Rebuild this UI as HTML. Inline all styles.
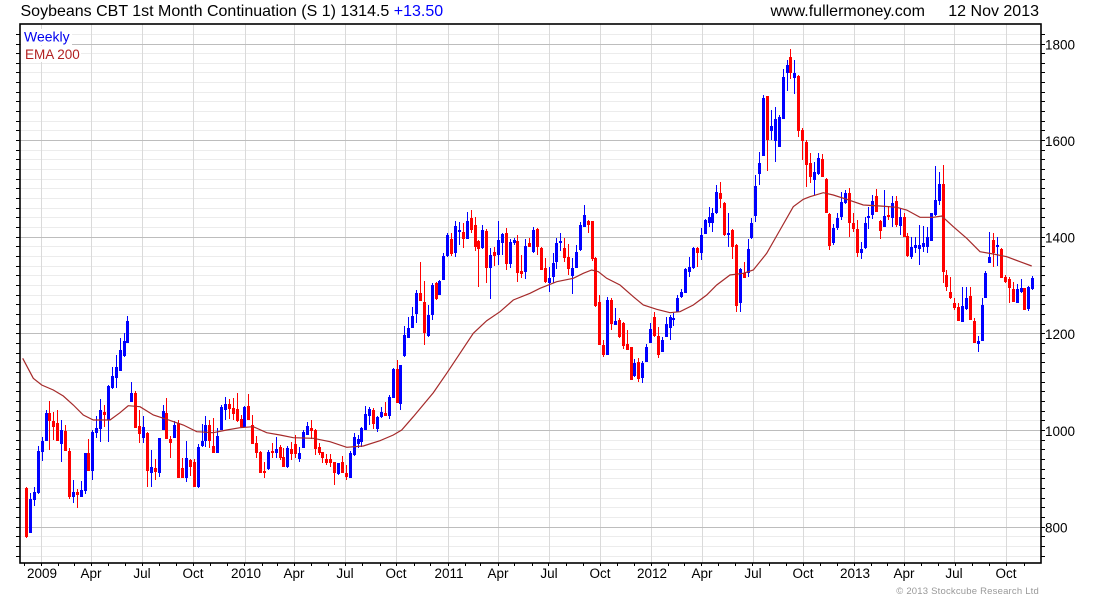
<!DOCTYPE html>
<html><head><meta charset="utf-8"><style>
html,body{margin:0;padding:0;background:#fff;}
svg{display:block;}
text{font-family:"Liberation Sans",Arial,sans-serif;}
</style></head><body>
<svg width="1100" height="600" viewBox="0 0 1100 600" xmlns="http://www.w3.org/2000/svg">
<rect x="0" y="0" width="1100" height="600" fill="#fff"/>
<!-- minor horizontal grid -->
<path fill="none" stroke="#ececec" stroke-width="1" d="M20 556.5H1041M20 546.5H1041M20 536.5H1041M20 517.5H1041M20 507.5H1041M20 498.5H1041M20 488.5H1041M20 478.5H1041M20 469.5H1041M20 459.5H1041M20 449.5H1041M20 440.5H1041M20 420.5H1041M20 411.5H1041M20 401.5H1041M20 391.5H1041M20 382.5H1041M20 372.5H1041M20 362.5H1041M20 353.5H1041M20 343.5H1041M20 324.5H1041M20 314.5H1041M20 304.5H1041M20 295.5H1041M20 285.5H1041M20 275.5H1041M20 266.5H1041M20 256.5H1041M20 246.5H1041M20 227.5H1041M20 217.5H1041M20 208.5H1041M20 198.5H1041M20 188.5H1041M20 179.5H1041M20 169.5H1041M20 159.5H1041M20 150.5H1041M20 130.5H1041M20 121.5H1041M20 111.5H1041M20 101.5H1041M20 92.5H1041M20 82.5H1041M20 72.5H1041M20 63.5H1041M20 53.5H1041M20 34.5H1041"/>
<!-- vertical grid -->
<path fill="none" stroke="#dadada" stroke-width="1" d="M41.5 24V563M91.5 24V563M142.5 24V563M193.5 24V563M245.5 24V563M294.5 24V563M345.5 24V563M396.5 24V563M448.5 24V563M498.5 24V563M549.5 24V563M600.5 24V563M651.5 24V563M702.5 24V563M753.5 24V563M803.5 24V563M854.5 24V563M904.5 24V563M954.5 24V563M1006.5 24V563"/>
<!-- major horizontal grid -->
<path fill="none" stroke="#bdbdbd" stroke-width="1" d="M20 527.5H1041M20 430.5H1041M20 333.5H1041M20 237.5H1041M20 140.5H1041M20 44.5H1041"/>
<!-- legend backgrounds -->
<rect x="21" y="29" width="51" height="16" fill="#fff"/>
<rect x="21" y="46" width="60" height="16" fill="#fff"/>
<!-- red candles -->
<path fill="none" stroke="#ff0000" stroke-width="1" d="M26.5 487V538M49.5 401V450M53.5 412V440M57.5 410V441M65.5 425V450M69.5 448V499M77.5 489V508M88.5 439V471M104.5 405V427M135.5 391V428M139.5 410V443M147.5 432V487M155.5 459V480M166.5 398V439M170.5 436V458M178.5 420V478M182.5 458V478M190.5 459V476M194.5 459V487M209.5 420V448M213.5 418V453M229.5 399V419M233.5 398V420M237.5 393V422M241.5 415V428M248.5 394V420M252.5 415V444M256.5 436V458M260.5 451V473M264.5 462V478M272.5 443V458M280.5 445V460M283.5 448V467M291.5 442V460M295.5 435V458M311.5 420V439M315.5 429V455M319.5 443V455M322.5 452V463M326.5 454V465M330.5 454V467M334.5 462V485M342.5 456V473M346.5 465V480M373.5 408V429M385.5 402V416M397.5 360V403M420.5 262V300M424.5 281V345M436.5 282V300M451.5 233V256M463.5 223V248M471.5 210V233M475.5 217V251M478.5 240V287M486.5 229V283M494.5 247V266M506.5 228V270M517.5 235V282M521.5 255V278M529.5 238V247M537.5 228V255M541.5 247V270M545.5 258V283M564.5 238V262M568.5 244V275M588.5 220V233M592.5 221V261M595.5 257V307M599.5 295V345M603.5 340V357M611.5 298V330M619.5 318V338M623.5 322V349M627.5 330V350M631.5 347V380M638.5 358V382M654.5 312V337M658.5 327V358M697.5 247V267M720.5 182V208M724.5 202V236M732.5 229V259M736.5 244V312M744.5 262V278M767.5 96V171M790.5 49V79M798.5 75V137M802.5 128V160M806.5 140V187M810.5 153V183M822.5 154V177M826.5 178V213M829.5 213V250M849.5 188V237M853.5 213V232M857.5 220V257M876.5 189V212M880.5 220V239M888.5 206V220M896.5 196V227M904.5 213V237M907.5 233V257M943.5 165V283M946.5 270V291M950.5 277V299M954.5 298V310M958.5 303V321M970.5 287V320M974.5 318V343M993.5 233V267M1001.5 248V278M1005.5 275V283M1009.5 277V303M1013.5 282V302M1024.5 288V310"/>
<path fill="none" stroke="#ff0000" stroke-width="3" d="M26.5 488V537M49.5 413V421M53.5 421V427M57.5 423V441M65.5 431V451M69.5 451V497M77.5 492V495M88.5 453V471M104.5 412V415M135.5 393V428M139.5 426V434M147.5 433V471M155.5 468V472M166.5 413V439M170.5 439V443M178.5 423V478M182.5 468V478M190.5 460V467M194.5 462V487M209.5 425V441M213.5 446V453M229.5 404V409M233.5 408V414M237.5 409V421M241.5 419V427M248.5 406V420M252.5 425V444M256.5 443V453M260.5 452V473M264.5 471V473M272.5 451V453M280.5 447V458M283.5 457V467M291.5 449V454M295.5 444V454M311.5 428V431M315.5 430V449M319.5 447V453M322.5 452V458M326.5 459V463M330.5 459V463M334.5 462V473M342.5 462V473M346.5 473V477M373.5 410V424M385.5 413V416M397.5 369V403M420.5 293V301M424.5 302V333M436.5 283V299M451.5 239V254M463.5 232V239M471.5 218V230M475.5 225V247M478.5 241V249M486.5 231V268M494.5 252V256M506.5 233V264M517.5 241V273M521.5 271V274M529.5 243V247M537.5 229V247M541.5 248V270M545.5 268V282M564.5 248V258M568.5 257V269M588.5 221V225M592.5 221V259M595.5 258V306M599.5 302V345M603.5 345V355M611.5 300V324M619.5 320V337M623.5 323V346M627.5 344V350M631.5 347V380M638.5 362V379M654.5 317V336M658.5 336V355M697.5 248V253M720.5 193V199M724.5 203V235M732.5 230V247M736.5 245V306M744.5 273V278M767.5 96V140M790.5 57V73M798.5 76V131M802.5 130V141M806.5 142V165M810.5 163V177M822.5 159V177M826.5 179V213M829.5 214V246M849.5 193V223M853.5 223V229M857.5 229V253M876.5 196V212M880.5 221V231M888.5 215V217M896.5 201V225M904.5 217V237M907.5 236V256M943.5 184V272M946.5 275V287M950.5 292V298M954.5 303V308M958.5 307V321M970.5 296V320M974.5 321V343M993.5 240V253M1001.5 249V278M1005.5 277V282M1009.5 279V288M1013.5 289V302M1024.5 288V310"/>
<!-- blue candles -->
<path fill="none" stroke="#0000ff" stroke-width="1" d="M30.5 493V533M34.5 487V506M38.5 446V494M42.5 437V461M46.5 410V441M61.5 420V462M73.5 480V503M81.5 481V497M85.5 453V494M92.5 430V480M96.5 416V438M100.5 399V442M108.5 385V442M112.5 367V389M116.5 355V388M120.5 338V371M124.5 333V357M127.5 316V343M131.5 382V402M143.5 416V443M151.5 450V487M159.5 438V477M163.5 405V430M174.5 421V438M186.5 441V482M198.5 444V488M202.5 424V447M205.5 416V447M217.5 428V453M221.5 405V430M225.5 397V420M244.5 406V427M268.5 450V470M276.5 437V458M287.5 446V468M299.5 447V462M303.5 430V448M307.5 422V435M338.5 463V475M350.5 451V478M354.5 433V456M358.5 435V448M361.5 427V447M365.5 406V430M369.5 407V425M377.5 416V432M381.5 407V418M389.5 395V419M393.5 368V398M400.5 365V410M404.5 326V357M408.5 317V338M412.5 307V328M416.5 290V323M428.5 305V337M432.5 283V320M439.5 280V295M443.5 253V280M447.5 233V257M455.5 221V257M459.5 222V245M467.5 212V236M482.5 225V249M490.5 248V299M498.5 221V265M502.5 233V255M510.5 239V268M514.5 238V245M525.5 239V279M533.5 227V253M549.5 267V292M553.5 253V283M556.5 238V269M560.5 233V251M572.5 258V294M576.5 245V267M580.5 222V251M584.5 205V227M607.5 297V355M615.5 308V325M634.5 359V377M642.5 361V383M646.5 344V362M650.5 323V343M662.5 337V352M666.5 317V337M670.5 315V340M673.5 313V326M677.5 295V312M681.5 289V298M685.5 268V293M689.5 257V277M693.5 247V269M701.5 228V260M705.5 219V234M709.5 207V227M712.5 208V232M716.5 185V214M728.5 213V247M740.5 268V312M748.5 239V277M751.5 218V239M755.5 175V222M759.5 152V185M763.5 95V156M771.5 110V140M775.5 107V162M779.5 115V147M783.5 69V119M787.5 60V91M794.5 60V94M814.5 162V195M818.5 153V175M833.5 224V245M837.5 213V230M841.5 192V220M845.5 190V204M861.5 242V259M865.5 217V249M868.5 207V229M872.5 195V219M884.5 190V227M892.5 196V227M900.5 208V235M911.5 237V259M915.5 237V253M919.5 225V265M923.5 226V252M927.5 227V253M931.5 213V241M935.5 166V216M939.5 172V205M962.5 287V322M966.5 287V310M978.5 336V352M982.5 298V341M985.5 271V298M989.5 232V263M997.5 237V266M1017.5 284V303M1021.5 279V293M1028.5 286V311M1032.5 276V290"/>
<path fill="none" stroke="#0000ff" stroke-width="3" d="M30.5 499V533M34.5 492V500M38.5 451V493M42.5 441V452M46.5 413V441M61.5 430V444M73.5 492V497M81.5 490V497M85.5 453V491M92.5 432V471M96.5 428V433M100.5 410V429M108.5 386V420M112.5 376V388M116.5 367V378M120.5 350V371M124.5 341V356M127.5 321V343M131.5 393V402M143.5 427V438M151.5 467V473M159.5 438V473M163.5 411V430M174.5 425V438M186.5 458V478M198.5 447V487M202.5 441V446M205.5 425V441M217.5 436V453M221.5 407V430M225.5 404V410M244.5 407V427M268.5 452V469M276.5 449V453M287.5 448V467M299.5 453V459M303.5 432V448M307.5 426V435M338.5 463V474M350.5 453V478M354.5 437V455M358.5 439V444M361.5 428V442M365.5 414V430M369.5 409V416M377.5 417V429M381.5 412V417M389.5 397V416M393.5 369V398M400.5 365V404M404.5 335V356M408.5 328V338M412.5 316V328M416.5 293V314M428.5 315V336M432.5 285V315M439.5 281V295M443.5 256V280M447.5 235V256M455.5 226V253M459.5 230V232M467.5 221V239M482.5 230V248M490.5 255V268M498.5 240V255M502.5 234V243M510.5 242V264M514.5 240V243M525.5 246V272M533.5 230V252M549.5 278V283M553.5 263V277M556.5 243V262M560.5 241V243M572.5 268V276M576.5 252V268M580.5 225V250M584.5 215V227M607.5 300V355M615.5 321V325M634.5 363V376M642.5 363V378M646.5 347V362M650.5 329V343M662.5 340V352M666.5 324V337M670.5 317V328M673.5 318V320M677.5 298V312M681.5 292V297M685.5 269V293M689.5 267V272M693.5 248V268M701.5 235V253M705.5 220V234M709.5 217V223M712.5 213V223M716.5 192V213M728.5 233V235M740.5 269V303M748.5 249V273M751.5 223V238M755.5 186V216M759.5 163V174M763.5 98V156M771.5 126V131M775.5 119V141M779.5 117V147M783.5 77V119M787.5 65V73M794.5 73V78M814.5 172V180M818.5 158V174M833.5 228V243M837.5 218V228M841.5 202V217M845.5 193V203M861.5 249V253M865.5 223V248M868.5 216V218M872.5 201V215M884.5 216V227M892.5 203V218M900.5 217V226M911.5 247V257M915.5 245V248M919.5 245V249M923.5 243V247M927.5 237V247M931.5 213V241M935.5 200V215M939.5 184V201M962.5 306V322M966.5 298V309M978.5 341V344M982.5 305V341M985.5 273V298M989.5 257V263M997.5 245V247M1017.5 289V303M1021.5 288V292M1028.5 287V309M1032.5 278V289"/>
<!-- EMA 200 -->
<polyline fill="none" stroke="#a52a2a" stroke-width="1.2" points="22.7,358.3 33.3,378.3 41.7,385 53.3,390 63.3,396 73.3,405 83.3,415 93.3,420 110,420 120,412.7 128.3,405.7 140,406.7 153.3,415 166.7,419.3 183.3,425 196.7,431.7 213.3,432.7 226.7,430 240,427.7 253.3,426.7 266.7,432.7 280,435 293.3,437.7 313.3,438.3 330,441.7 346.7,447.3 363.3,446 380,440.7 393.3,435 401.7,430 413.3,416.7 433.3,392.7 446.7,373.3 460,353.3 473.3,333.3 486.7,320.7 500,311.7 513.3,300 530,293.3 540,288.3 556.7,281.7 573.3,278.3 583.3,273.3 591.7,270 598.3,271.7 606.7,278.3 620,285 633.3,296.7 643.3,305 656.7,309.3 670,312.7 680,311.7 693.3,305 706.7,295 716.7,285 730,275 743.3,273.3 753.3,270 766.7,253.3 780,230 793.3,206.7 803.3,199.3 810,196.7 823.3,192.7 833.3,195 846.7,199.3 863.3,205 880,206 896.7,207.3 906.7,210 920,217.3 933.3,217.3 941.7,216 953.3,226.7 966.7,238.3 980,251.7 993.3,254 1006.7,256.7 1020,261.7 1031.7,266"/>
<!-- border -->
<rect x="20" y="24" width="1021" height="539" fill="none" stroke="#000" stroke-width="1.6"/>
<!-- right & left ticks -->
<path fill="none" stroke="#000" stroke-width="1" d="M1041 556.5H1045M1041 546.5H1045M1041 536.5H1045M1041 527.5H1045M1041 517.5H1045M1041 507.5H1045M1041 498.5H1045M1041 488.5H1045M1041 478.5H1045M1041 469.5H1045M1041 459.5H1045M1041 449.5H1045M1041 440.5H1045M1041 430.5H1045M1041 420.5H1045M1041 411.5H1045M1041 401.5H1045M1041 391.5H1045M1041 382.5H1045M1041 372.5H1045M1041 362.5H1045M1041 353.5H1045M1041 343.5H1045M1041 333.5H1045M1041 324.5H1045M1041 314.5H1045M1041 304.5H1045M1041 295.5H1045M1041 285.5H1045M1041 275.5H1045M1041 266.5H1045M1041 256.5H1045M1041 246.5H1045M1041 237.5H1045M1041 227.5H1045M1041 217.5H1045M1041 208.5H1045M1041 198.5H1045M1041 188.5H1045M1041 179.5H1045M1041 169.5H1045M1041 159.5H1045M1041 150.5H1045M1041 140.5H1045M1041 130.5H1045M1041 121.5H1045M1041 111.5H1045M1041 101.5H1045M1041 92.5H1045M1041 82.5H1045M1041 72.5H1045M1041 63.5H1045M1041 53.5H1045M1041 44.5H1045M1041 34.5H1045
M16 556.5H20M16 546.5H20M16 536.5H20M16 527.5H20M16 517.5H20M16 507.5H20M16 498.5H20M16 488.5H20M16 478.5H20M16 469.5H20M16 459.5H20M16 449.5H20M16 440.5H20M16 430.5H20M16 420.5H20M16 411.5H20M16 401.5H20M16 391.5H20M16 382.5H20M16 372.5H20M16 362.5H20M16 353.5H20M16 343.5H20M16 333.5H20M16 324.5H20M16 314.5H20M16 304.5H20M16 295.5H20M16 285.5H20M16 275.5H20M16 266.5H20M16 256.5H20M16 246.5H20M16 237.5H20M16 227.5H20M16 217.5H20M16 208.5H20M16 198.5H20M16 188.5H20M16 179.5H20M16 169.5H20M16 159.5H20M16 150.5H20M16 140.5H20M16 130.5H20M16 121.5H20M16 111.5H20M16 101.5H20M16 92.5H20M16 82.5H20M16 72.5H20M16 63.5H20M16 53.5H20M16 44.5H20M16 34.5H20
M24.5 563V566M41.5 563V566M58.5 563V566M74.5 563V566M91.5 563V566M108.5 563V566M125.5 563V566M142.5 563V566M159.5 563V566M176.5 563V566M193.5 563V566M210.5 563V566M227.5 563V566M244.5 563V566M262.5 563V566M277.5 563V566M294.5 563V566M311.5 563V566M328.5 563V566M345.5 563V566M362.5 563V566M380.5 563V566M396.5 563V566M414.5 563V566M430.5 563V566M448.5 563V566M465.5 563V566M480.5 563V566M498.5 563V566M514.5 563V566M532.5 563V566M548.5 563V566M566.5 563V566M583.5 563V566M600.5 563V566M617.5 563V566M634.5 563V566M651.5 563V566M668.5 563V566M684.5 563V566M701.5 563V566M718.5 563V566M735.5 563V566M752.5 563V566M769.5 563V566M786.5 563V566M803.5 563V566M820.5 563V566M837.5 563V566M854.5 563V566M871.5 563V566M887.5 563V566M904.5 563V566M921.5 563V566M938.5 563V566M955.5 563V566M972.5 563V566M989.5 563V566M1006.5 563V566M1024.5 563V566"/>
<!-- header -->
<text x="20.5" y="16" font-size="16" fill="#000">Soybeans CBT 1st Month Continuation (S 1) 1314.5 <tspan fill="#0000ff">+13.50</tspan></text>
<text x="770.5" y="16" font-size="16" fill="#000">www.fullermoney.com</text>
<text x="1039" y="16" font-size="16" fill="#000" text-anchor="end">12 Nov 2013</text>
<!-- legend -->
<text x="24" y="41.5" font-size="14" fill="#0000ee">Weekly</text>
<text x="25" y="59" font-size="13.5" fill="#b22222">EMA 200</text>
<!-- right labels -->
<g font-size="13.5" fill="#000">
<text x="1045" y="49.5">1800</text>
<text x="1045" y="146">1600</text>
<text x="1045" y="242.5">1400</text>
<text x="1045" y="339">1200</text>
<text x="1045" y="436">1000</text>
<text x="1045" y="532.5">800</text>
</g>
<!-- bottom labels -->
<g font-size="13.5" fill="#000" text-anchor="middle">
<text x="42" y="578">2009</text>
<text x="91" y="578">Apr</text>
<text x="142" y="578">Jul</text>
<text x="193" y="578">Oct</text>
<text x="246" y="578">2010</text>
<text x="294" y="578">Apr</text>
<text x="345" y="578">Jul</text>
<text x="396" y="578">Oct</text>
<text x="449" y="578">2011</text>
<text x="498" y="578">Apr</text>
<text x="549" y="578">Jul</text>
<text x="600" y="578">Oct</text>
<text x="652" y="578">2012</text>
<text x="702" y="578">Apr</text>
<text x="753" y="578">Jul</text>
<text x="803" y="578">Oct</text>
<text x="855" y="578">2013</text>
<text x="904" y="578">Apr</text>
<text x="954" y="578">Jul</text>
<text x="1006" y="578">Oct</text>
</g>
<text x="1039" y="594" font-size="9.5" fill="#999" text-anchor="end" letter-spacing="0.2">© 2013 Stockcube Research Ltd</text>
</svg>
</body></html>
